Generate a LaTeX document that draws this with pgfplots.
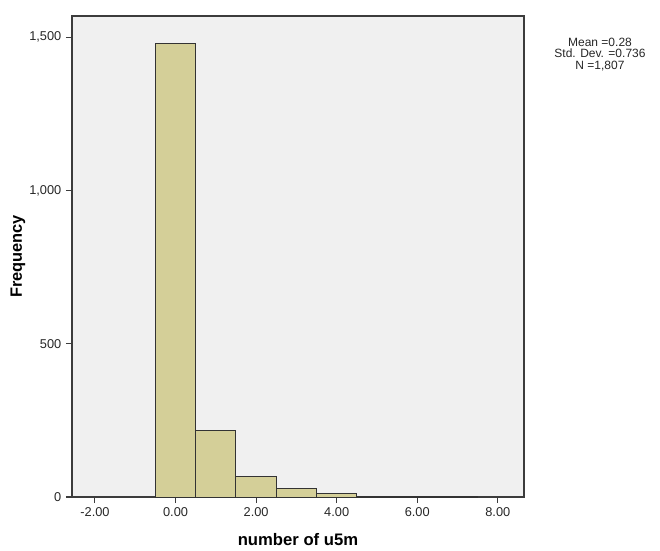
\documentclass[border=0pt]{standalone}
\usepackage{fontspec}
\setmainfont{Liberation Sans}
\usepackage{pgfplots}
\pgfplotsset{compat=1.18}
\definecolor{bgray}{RGB}{240,240,240}
\definecolor{barfill}{RGB}{212,207,152}
\definecolor{axcol}{RGB}{60,60,60}
\begin{document}
\begin{tikzpicture}
\begin{axis}[
  scale only axis,
  width=339pt, height=360.75pt,
  xmin=-2.57, xmax=8.65,
  ymin=0, ymax=1569,
  axis background/.style={fill=bgray},
  axis line style={axcol, line width=0.9pt},
  xtick={-2,0,2,4,6,8},
  ytick={0,500,1000,1500},
  xtick pos=bottom, ytick pos=left,
  tick align=outside,
  major tick length=4.5pt,
  tick style={axcol, line width=0.8pt},
  /pgf/number format/assume math mode=true,
  xticklabel style={/pgf/number format/.cd, fixed, fixed zerofill, precision=2},
  yticklabel style={/pgf/number format/.cd, 1000 sep={,}},
  ticklabel style={font=\fontsize{9.6}{11}\selectfont, text=black!85},
  xlabel={\textbf{number of u5m}},
  ylabel={\textbf{Frequency}},
  every axis x label/.style={at={(axis description cs:0.5,0)}, anchor=center, yshift=-32.25pt, font=\fontsize{12.5}{14}\selectfont},
  every axis y label/.style={at={(axis description cs:0,0.5)}, anchor=center, rotate=90, yshift=40.5pt, font=\fontsize{12.3}{14}\selectfont},
  clip=false,
]
\addplot[ybar interval, fill=barfill, draw=black!80, line width=0.7pt]
  coordinates {(-0.5,1478) (0.5,217) (1.5,66) (2.5,28) (3.5,11) (4.5,3) (5.5,1) (6.5,3) (7.5,3)};
\end{axis}
\path (current axis.south west) ++(-54pt,-39.75pt) coordinate (bbsw);
\path (current axis.north east) ++(102pt,12pt) coordinate (bbne);
\useasboundingbox (bbsw) rectangle (bbne);
\node[align=center, inner sep=0pt, font=\fontsize{9}{8.4}\selectfont, text=black!85, anchor=north] at ([xshift=57pt,yshift=-16.5pt]current axis.north east) {Mean =0.28\\Std. Dev. =0.736\\N =1,807};
\end{tikzpicture}
\end{document}
